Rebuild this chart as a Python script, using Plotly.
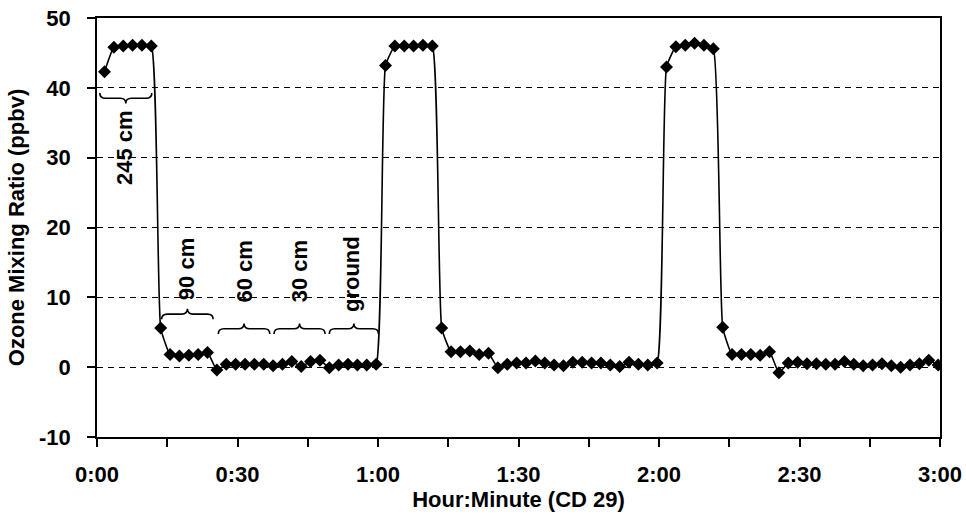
import plotly.graph_objects as go

# ---- data (minutes since 0:00, ozone ppbv) ----
minutes = [
    1.6, 3.6, 5.6, 7.6, 9.6, 11.6, 13.6, 15.6, 17.6, 19.6,
    21.6, 23.6, 25.6, 27.6, 29.6, 31.6, 33.6, 35.6, 37.6, 39.6,
    41.6, 43.6, 45.6, 47.6, 49.6, 51.6, 53.6, 55.6, 57.6, 59.6,
    61.6, 63.6, 65.6, 67.6, 69.6, 71.6, 73.6, 75.6, 77.6, 79.6,
    81.6, 83.6, 85.6, 87.6, 89.6, 91.6, 93.6, 95.6, 97.6, 99.6,
    101.6, 103.6, 105.6, 107.6, 109.6, 111.6, 113.6, 115.6, 117.6, 119.6,
    121.6, 123.6, 125.6, 127.6, 129.6, 131.6, 133.6, 135.6, 137.6, 139.6,
    141.6, 143.6, 145.6, 147.6, 149.6, 151.6, 153.6, 155.6, 157.6, 159.6,
    161.6, 163.6, 165.6, 167.6, 169.6, 171.6, 173.6, 175.6, 177.6, 179.6,
]
ozone = [
    42.3, 45.8, 46.0, 46.1, 46.1, 46.0, 5.6, 1.8, 1.6, 1.7,
    1.8, 2.1, -0.4, 0.4, 0.4, 0.4, 0.4, 0.4, 0.2, 0.4,
    0.8, 0.1, 0.8, 1.0, -0.1, 0.3, 0.4, 0.3, 0.3, 0.4,
    43.2, 46.0, 46.0, 46.0, 46.1, 46.0, 5.6, 2.2, 2.2, 2.3,
    1.8, 2.0, -0.1, 0.4, 0.6, 0.6, 0.9, 0.6, 0.3, 0.2,
    0.7, 0.7, 0.6, 0.6, 0.3, 0.1, 0.7, 0.4, 0.3, 0.6,
    43.0, 45.9, 46.1, 46.4, 46.1, 45.6, 5.7, 1.8, 1.8, 1.8,
    1.7, 2.2, -0.8, 0.6, 0.7, 0.5, 0.5, 0.4, 0.4, 0.8,
    0.4, 0.2, 0.3, 0.5, 0.2, 0.0, 0.3, 0.5, 1.0, 0.3,
]
tick_minutes = [0, 30, 60, 90, 120, 150, 180]
tick_labels = ["0:00", "0:30", "1:00", "1:30", "2:00", "2:30", "3:00"]
minor_minutes = [15, 45, 75, 105, 135, 165]
y_ticks = [-10, 0, 10, 20, 30, 40, 50]
y_tick_labels = ["-10", "0", "10", "20", "30", "40", "50"]

# height-bracket annotations: label, start, end (minutes), brace level, label centre
brace_labels = ["245 cm", "90 cm", "60 cm", "30 cm", "ground"]
brace_start = [0.6, 13.8, 25.9, 37.8, 49.6]
brace_end = [11.7, 24.8, 36.9, 48.7, 60.1]
brace_level = [38.5, 7.6, 5.5, 5.5, 5.5]
brace_points_down = [True, False, False, False, False]
label_x = [6.0, 19.1, 31.4, 43.3, 54.4]
label_y = [31.4, 14.1, 13.7, 13.7, 13.3]

FONT = "Liberation Sans, Arial, sans-serif"
FS = 22

fig = go.Figure()
fig.add_trace(go.Scatter(
    x=minutes, y=ozone, mode="lines+markers",
    line=dict(color="black", width=1.6, shape="spline", smoothing=0.4),
    marker=dict(symbol="diamond", size=10, color="black"),
    showlegend=False, hoverinfo="x+y",
))

shapes = []
for lab, x0, x1, yb, down in zip(brace_labels, brace_start, brace_end,
                                  brace_level, brace_points_down):
    h = 0.75
    ye = yb + h if down else yb - h      # ends curl away from the tip
    yt = yb - h if down else yb + h      # middle tip
    dx = 1.2
    xm = (x0 + x1) / 2
    path = (f"M {x0},{ye} Q {x0},{yb} {x0+dx},{yb} L {xm-dx},{yb} "
            f"Q {xm},{yb} {xm},{yt} Q {xm},{yb} {xm+dx},{yb} "
            f"L {x1-dx},{yb} Q {x1},{yb} {x1},{ye}")
    shapes.append(dict(type="path", path=path, xref="x", yref="y",
                       line=dict(color="black", width=1.6)))

annotations = []
for lab, lx, ly in zip(brace_labels, label_x, label_y):
    annotations.append(dict(
        x=lx, y=ly, xref="x", yref="y", text=lab, showarrow=False,
        textangle=-90, xanchor="center", yanchor="middle",
        font=dict(family=FONT, size=FS, color="black", weight="bold")))

fig.update_layout(
    width=966, height=527,
    margin=dict(l=97, r=26, t=18, b=90, autoexpand=False),
    paper_bgcolor="white", plot_bgcolor="white",
    font=dict(family=FONT, size=FS, color="black", weight="bold"),
    shapes=shapes, annotations=annotations,
    xaxis=dict(
        range=[0, 180], tickmode="array", tickvals=tick_minutes,
        ticktext=tick_labels, ticks="outside", ticklen=8, tickwidth=1.5,
        tickcolor="black", showgrid=False, zeroline=False, automargin=False,
        showline=True, linecolor="black", linewidth=1.5, mirror=True,
        ticklabelstandoff=9,
        minor=dict(tickvals=minor_minutes, ticks="outside", ticklen=8,
                   tickwidth=1.5, tickcolor="black", showgrid=False),
        title=dict(text="Hour:Minute (CD 29)", standoff=4,
                   font=dict(family=FONT, size=FS, weight="bold")),
    ),
    yaxis=dict(
        range=[-10, 50], tickmode="array", tickvals=y_ticks,
        ticktext=y_tick_labels, automargin=False,
        ticks="outside", ticklen=8, tickwidth=1.5, tickcolor="black",
        showgrid=True, gridcolor="black", gridwidth=1.4,
        griddash="6px,5px", zeroline=False,
        showline=True, linecolor="black", linewidth=1.5, mirror=True,
        ticklabelstandoff=12,
        title=dict(text="Ozone Mixing Ratio (ppbv)", standoff=8,
                   font=dict(family=FONT, size=FS, weight="bold")),
    ),
)

fig.write_html("out.html")
